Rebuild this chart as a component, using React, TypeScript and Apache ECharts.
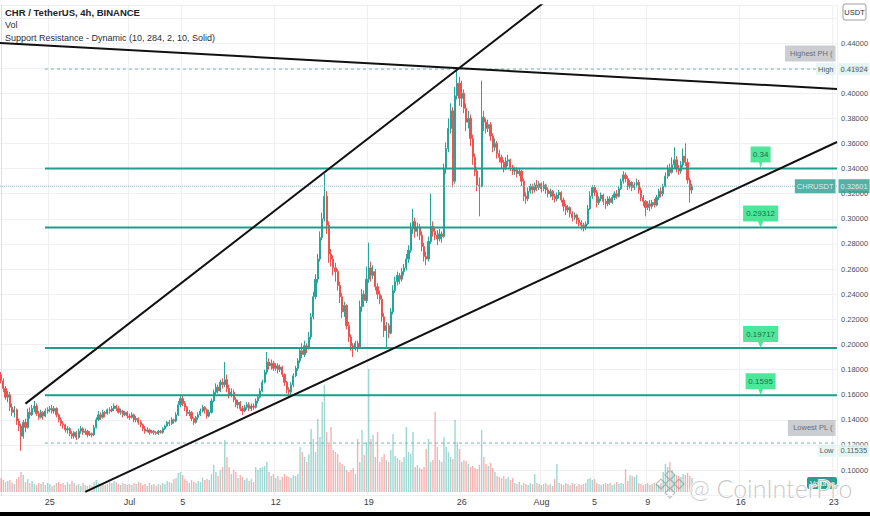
import React, { useEffect, useRef } from 'react';
import * as echarts from 'echarts';

// ---- time axis (4h candles) ----
const START_UTC = Date.UTC(2021, 5, 21, 8);
const STEP_MS = 4 * 3600 * 1000;
const SLOT_COUNT = 378;
const TICK_KEYS = ['06-25 00', '07-01 00', '07-05 00', '07-12 00', '07-19 00', '07-26 00', '08-01 00', '08-05 00', '08-09 00', '08-16 00', '08-23 00'];
const TICK_TEXT = ['25', 'Jul', '5', '12', '19', '26', 'Aug', '5', '9', '16', '23'];

// ---- price data (CHR/USDT 4h) ----
const FIRST_OPEN = 0.176;
const CLOSE = [
  0.171, 0.165, 0.158, 0.160,
  0.150, 0.146, 0.148, 0.139, 0.135, 0.127,
  0.138, 0.134, 0.146, 0.144, 0.149, 0.151,
  0.145, 0.142, 0.146, 0.143, 0.147, 0.148,
  0.149, 0.147, 0.149, 0.144, 0.140, 0.137,
  0.136, 0.132, 0.133, 0.129, 0.127, 0.130,
  0.126, 0.131, 0.133, 0.130, 0.131, 0.128,
  0.129, 0.128, 0.134, 0.140, 0.144, 0.142,
  0.146, 0.145, 0.148, 0.147, 0.149, 0.151,
  0.149, 0.146, 0.147, 0.144, 0.146, 0.143,
  0.142, 0.144, 0.140, 0.141, 0.138, 0.136,
  0.133, 0.131, 0.132, 0.130, 0.131, 0.130,
  0.129, 0.131, 0.130, 0.133, 0.135, 0.138,
  0.137, 0.140, 0.139, 0.144, 0.152, 0.157,
  0.153, 0.150, 0.145, 0.146, 0.141, 0.138,
  0.142, 0.144, 0.147, 0.150, 0.148, 0.143,
  0.146, 0.155, 0.162, 0.166, 0.163, 0.170,
  0.168, 0.172, 0.165, 0.160, 0.162, 0.156,
  0.152, 0.154, 0.149, 0.147, 0.150, 0.152,
  0.149, 0.151, 0.150, 0.155, 0.158, 0.163,
  0.170, 0.178, 0.186, 0.183, 0.185, 0.181,
  0.183, 0.180, 0.182, 0.176, 0.170, 0.164,
  0.162, 0.168, 0.175, 0.181, 0.187, 0.195,
  0.192, 0.199, 0.197, 0.206, 0.222, 0.238,
  0.252, 0.268, 0.285, 0.300, 0.318, 0.295,
  0.272, 0.268, 0.261, 0.258, 0.247, 0.238,
  0.226, 0.231, 0.215, 0.206, 0.199, 0.197,
  0.201, 0.198, 0.230, 0.240, 0.235, 0.252,
  0.261, 0.255, 0.258, 0.246, 0.240, 0.236,
  0.222, 0.211, 0.215, 0.209, 0.226, 0.243,
  0.250, 0.255, 0.252, 0.258, 0.261, 0.268,
  0.275, 0.292, 0.298, 0.290, 0.293, 0.287,
  0.278, 0.270, 0.268, 0.282, 0.294, 0.290,
  0.287, 0.284, 0.288, 0.286, 0.340, 0.356,
  0.372, 0.386, 0.330, 0.398, 0.408, 0.396,
  0.400, 0.388, 0.377, 0.380, 0.364, 0.349,
  0.338, 0.327, 0.326, 0.381, 0.377, 0.372,
  0.375, 0.366, 0.357, 0.360, 0.352, 0.349,
  0.345, 0.341, 0.346, 0.347, 0.341, 0.338,
  0.339, 0.336, 0.338, 0.330, 0.318, 0.316,
  0.322, 0.326, 0.323, 0.327, 0.325, 0.328,
  0.324, 0.327, 0.323, 0.320, 0.322, 0.318,
  0.316, 0.319, 0.321, 0.315, 0.310, 0.307,
  0.309, 0.304, 0.301, 0.303, 0.299, 0.297,
  0.295, 0.293, 0.296, 0.308, 0.318, 0.325,
  0.321, 0.313, 0.316, 0.319, 0.314, 0.312,
  0.316, 0.313, 0.317, 0.320, 0.318, 0.324,
  0.330, 0.335, 0.332, 0.326, 0.329, 0.325,
  0.327, 0.329, 0.323, 0.317, 0.314, 0.309,
  0.312, 0.310, 0.313, 0.311, 0.317, 0.322,
  0.320, 0.326, 0.334, 0.340, 0.337, 0.343,
  0.347, 0.340, 0.338, 0.343, 0.350, 0.345,
  0.331, 0.323, 0.32601,
];
const LOW = [
  0.169, 0.162, 0.156, 0.154,
  0.147, 0.143, 0.142, 0.136, 0.131, 0.11535,
  0.125, 0.130, 0.133, 0.141, 0.143, 0.146,
  0.143, 0.140, 0.141, 0.140, 0.142, 0.145,
  0.146, 0.145, 0.145, 0.142, 0.138, 0.135,
  0.133, 0.130, 0.129, 0.127, 0.125, 0.125,
  0.124, 0.125, 0.129, 0.128, 0.128, 0.126,
  0.127, 0.126, 0.127, 0.133, 0.139, 0.140,
  0.141, 0.142, 0.144, 0.145, 0.146, 0.147,
  0.147, 0.145, 0.144, 0.142, 0.143, 0.141,
  0.140, 0.141, 0.138, 0.138, 0.136, 0.134,
  0.131, 0.129, 0.130, 0.128, 0.129, 0.128,
  0.128, 0.128, 0.129, 0.129, 0.132, 0.134,
  0.135, 0.136, 0.137, 0.138, 0.143, 0.150,
  0.151, 0.147, 0.143, 0.143, 0.139, 0.136,
  0.137, 0.140, 0.143, 0.146, 0.145, 0.141,
  0.142, 0.145, 0.154, 0.160, 0.161, 0.162,
  0.165, 0.166, 0.162, 0.157, 0.158, 0.154,
  0.150, 0.149, 0.147, 0.144, 0.146, 0.148,
  0.147, 0.147, 0.148, 0.149, 0.153, 0.157,
  0.162, 0.169, 0.176, 0.180, 0.180, 0.179,
  0.179, 0.177, 0.178, 0.174, 0.167, 0.161,
  0.158, 0.160, 0.166, 0.174, 0.179, 0.185,
  0.189, 0.190, 0.193, 0.196, 0.204, 0.220,
  0.236, 0.249, 0.266, 0.283, 0.298, 0.288,
  0.265, 0.262, 0.255, 0.250, 0.243, 0.233,
  0.221, 0.222, 0.212, 0.202, 0.195, 0.190,
  0.195, 0.194, 0.197, 0.226, 0.230, 0.233,
  0.249, 0.250, 0.252, 0.243, 0.236, 0.232,
  0.218, 0.206, 0.198, 0.205, 0.208, 0.224,
  0.241, 0.247, 0.248, 0.250, 0.255, 0.259,
  0.265, 0.273, 0.288, 0.285, 0.286, 0.283,
  0.274, 0.266, 0.263, 0.266, 0.280, 0.286,
  0.283, 0.279, 0.282, 0.281, 0.285, 0.336,
  0.353, 0.368, 0.325, 0.328, 0.395, 0.390,
  0.389, 0.384, 0.370, 0.372, 0.358, 0.343,
  0.334, 0.322, 0.302, 0.325, 0.370, 0.368,
  0.369, 0.362, 0.353, 0.354, 0.348, 0.345,
  0.340, 0.337, 0.339, 0.342, 0.338, 0.335,
  0.335, 0.333, 0.334, 0.326, 0.314, 0.312,
  0.314, 0.320, 0.320, 0.321, 0.322, 0.323,
  0.321, 0.322, 0.320, 0.317, 0.317, 0.315,
  0.313, 0.314, 0.316, 0.313, 0.306, 0.303,
  0.305, 0.301, 0.298, 0.299, 0.296, 0.294,
  0.291, 0.290, 0.291, 0.295, 0.307, 0.316,
  0.318, 0.309, 0.311, 0.314, 0.311, 0.308,
  0.310, 0.311, 0.312, 0.315, 0.316, 0.317,
  0.323, 0.328, 0.329, 0.323, 0.324, 0.322,
  0.323, 0.325, 0.320, 0.314, 0.310, 0.302,
  0.307, 0.306, 0.308, 0.309, 0.310, 0.315,
  0.317, 0.318, 0.325, 0.332, 0.334, 0.336,
  0.340, 0.337, 0.335, 0.336, 0.341, 0.342,
  0.328, 0.313, 0.320,
];
const HIGH = [
  0.178, 0.173, 0.167, 0.163,
  0.162, 0.153, 0.151, 0.149, 0.141, 0.137,
  0.140, 0.141, 0.149, 0.150, 0.152, 0.155,
  0.153, 0.147, 0.148, 0.147, 0.149, 0.150,
  0.151, 0.152, 0.151, 0.150, 0.145, 0.142,
  0.139, 0.137, 0.135, 0.134, 0.131, 0.131,
  0.131, 0.133, 0.135, 0.134, 0.133, 0.132,
  0.131, 0.130, 0.136, 0.142, 0.147, 0.146,
  0.148, 0.147, 0.149, 0.150, 0.151, 0.153,
  0.152, 0.151, 0.149, 0.148, 0.147, 0.147,
  0.145, 0.146, 0.145, 0.143, 0.142, 0.140,
  0.137, 0.135, 0.134, 0.133, 0.132, 0.132,
  0.131, 0.132, 0.132, 0.134, 0.136, 0.139,
  0.140, 0.142, 0.141, 0.146, 0.155, 0.160,
  0.159, 0.155, 0.151, 0.148, 0.147, 0.142,
  0.143, 0.146, 0.149, 0.152, 0.151, 0.149,
  0.148, 0.157, 0.164, 0.169, 0.168, 0.172,
  0.173, 0.186, 0.176, 0.168, 0.165, 0.164,
  0.158, 0.156, 0.155, 0.151, 0.152, 0.154,
  0.154, 0.153, 0.153, 0.157, 0.160, 0.165,
  0.172, 0.180, 0.194, 0.189, 0.188, 0.187,
  0.185, 0.185, 0.184, 0.183, 0.177, 0.171,
  0.166, 0.170, 0.177, 0.183, 0.189, 0.198,
  0.201, 0.203, 0.201, 0.210, 0.225, 0.242,
  0.256, 0.272, 0.290, 0.305, 0.336, 0.322,
  0.298, 0.276, 0.271, 0.265, 0.260, 0.250,
  0.241, 0.234, 0.232, 0.218, 0.208, 0.201,
  0.203, 0.203, 0.235, 0.244, 0.243, 0.262,
  0.281, 0.266, 0.263, 0.260, 0.249, 0.243,
  0.239, 0.225, 0.218, 0.217, 0.229, 0.247,
  0.254, 0.258, 0.257, 0.261, 0.264, 0.272,
  0.279, 0.297, 0.308, 0.301, 0.297, 0.296,
  0.290, 0.281, 0.274, 0.286, 0.320, 0.298,
  0.293, 0.291, 0.292, 0.290, 0.344, 0.361,
  0.380, 0.392, 0.389, 0.405, 0.41924, 0.413,
  0.410, 0.403, 0.392, 0.386, 0.383, 0.367,
  0.352, 0.341, 0.333, 0.410, 0.386, 0.380,
  0.379, 0.377, 0.368, 0.364, 0.362, 0.355,
  0.351, 0.347, 0.349, 0.351, 0.348, 0.343,
  0.341, 0.341, 0.340, 0.339, 0.332, 0.321,
  0.325, 0.328, 0.328, 0.329, 0.331, 0.330,
  0.329, 0.330, 0.328, 0.325, 0.324, 0.323,
  0.320, 0.321, 0.323, 0.322, 0.317, 0.312,
  0.311, 0.310, 0.306, 0.305, 0.304, 0.301,
  0.299, 0.297, 0.298, 0.311, 0.322, 0.327,
  0.327, 0.323, 0.318, 0.321, 0.320, 0.316,
  0.318, 0.318, 0.319, 0.322, 0.323, 0.326,
  0.332, 0.338, 0.337, 0.334, 0.331, 0.330,
  0.329, 0.332, 0.331, 0.325, 0.319, 0.315,
  0.314, 0.315, 0.315, 0.316, 0.319, 0.324,
  0.325, 0.328, 0.337, 0.343, 0.344, 0.349,
  0.357, 0.350, 0.343, 0.346, 0.356, 0.360,
  0.348, 0.333, 0.328,
];
const VOLUME = [
  14, 12, 10, 11,
  12, 9, 8, 13, 15, 20,
  17, 10, 13, 9, 11, 8,
  7, 9, 8, 10, 7, 9,
  8, 6, 7, 9, 10, 8,
  9, 7, 10, 8, 11, 9,
  7, 8, 6, 9, 7, 6,
  7, 6, 10, 12, 9, 8,
  9, 7, 8, 10, 9, 11,
  10, 8, 7, 9, 8, 7,
  8, 7, 9, 8, 10, 9,
  7, 8, 6, 9, 7, 8,
  6, 8, 7, 9, 8, 11,
  10, 9, 13, 14, 19, 20,
  17, 13, 11, 9, 12, 10,
  9, 11, 10, 14, 12, 13,
  12, 18, 27, 20, 16, 22,
  25, 52, 35, 25, 18, 22,
  20, 14, 17, 15, 12, 14,
  11, 13, 10, 25, 22, 24,
  25, 26, 30, 20, 16, 18,
  14, 16, 12, 15, 18, 16,
  15, 14, 17, 16, 18, 45,
  40, 35, 30, 38, 63, 53,
  40, 73, 55, 90, 107, 60,
  48, 65, 42, 40, 38, 30,
  28, 26, 22, 20, 22, 24,
  18, 53, 30, 62, 37, 50,
  123, 53, 57, 35, 60, 30,
  35, 38, 32, 30, 42, 58,
  36, 34, 32, 30, 35, 65,
  40, 38, 60, 25, 27, 24,
  23, 25, 43, 53, 30, 32,
  80, 45, 32, 30, 55, 45,
  40, 35, 33, 72, 50, 43,
  30, 32, 31, 28, 25, 26,
  24, 23, 27, 62, 35, 28,
  26, 29, 24, 20, 16, 15,
  14, 16, 13, 15, 12, 14,
  9, 8, 10, 7, 9, 8,
  7, 9, 8, 18, 9, 8,
  7, 8, 9, 7, 8, 6,
  13, 28, 9, 8, 7, 9,
  8, 7, 9, 8, 6, 8,
  7, 8, 9, 13, 14, 12,
  13, 9, 8, 7, 8, 9,
  8, 9, 7, 8, 10, 8,
  9, 8, 23, 11, 17, 16,
  15, 17, 9, 8, 7, 8,
  9, 7, 8, 9, 8, 7,
  9, 20, 28, 25, 30, 22,
  18, 17, 16, 15, 18, 17,
  19, 16, 14,
];

// ---- drawn levels / trendlines (slot index, price) ----
const TRENDLINES = [
  [[-0.5, 0.44], [377.5, 0.4034]],
  [[11, 0.1529], [260, 0.4925]],
  [[38, 0.0826], [377.5, 0.3612]],
];
const SR_LEVELS = [0.34, 0.29312, 0.19717, 0.1595];
const SR_TEXT = ['0.34', '0.29312', '0.19717', '0.1595'];
const SR_BOX_W = [20, 35, 35, 30];
const LEVEL_START = 19.8;
const HIGH_LEVEL = 0.41924;
const LOW_PIVOT_LEVEL = 0.1215;
const LOW_VALUE = 0.11535;
const LAST_PRICE = 0.32601;

const UP = '#26a69a';
const DOWN = '#ef5350';
const FONT = 'Liberation Sans';

export default function App() {
  const ref = useRef<HTMLDivElement>(null);
  useEffect(() => {
    if (!ref.current) return;
    const chart = echarts.init(ref.current, undefined, { renderer: 'svg' });
    const pad = (n: number) => String(n).padStart(2, '0');
    const categories = Array.from({ length: SLOT_COUNT }, (_, k) => {
      const d = new Date(START_UTC + k * STEP_MS);
      return `${pad(d.getUTCMonth() + 1)}-${pad(d.getUTCDate())} ${pad(d.getUTCHours())}`;
    });
    const candles = CLOSE.map((c, k) => {
      const o = k === 0 ? FIRST_OPEN : CLOSE[k - 1];
      return [o, c, Math.min(LOW[k], o, c), Math.max(HIGH[k], o, c)];
    });
    const vol = VOLUME.map((v, k) => ({
      value: v,
      itemStyle: { color: candles[k][1] >= candles[k][0] ? 'rgba(38,166,154,0.45)' : 'rgba(239,83,80,0.45)' },
    }));
    const isTick = (_i: number, v: string) => TICK_KEYS.indexOf(v) >= 0;
    const lineSeries = (data: number[][], color: string, width: number, type: any = 'solid') => ({
      type: 'line', xAxisIndex: 1, yAxisIndex: 0, data, symbol: 'none', silent: true, z: 5,
      lineStyle: { color, width, type }, clip: true,
    });
    const END = SLOT_COUNT - 0.5;
    const calloutPath = 'path://M0,0H40V16H23L20,22L17,16H0Z';
    const lightBox = { backgroundColor: '#def2ef', color: '#2b2f36', padding: [2, 2, 2, 2], fontSize: 7.5, fontFamily: FONT };
    const grayBox = { backgroundColor: '#bfc1c6', color: '#4a4d55', padding: [4, 3, 4, 5], fontSize: 7.5, fontFamily: FONT };
    const tealBox = { backgroundColor: '#2a9d8f', color: '#ffffff', padding: [3, 2, 3, 2], fontSize: 7.5, fontFamily: FONT };
    const tag = (price: number, text: string, pos: string, style: any) => ({
      value: [END, price],
      label: { show: true, position: pos, distance: 1, formatter: text, ...style },
    });

    chart.setOption({
      animation: false,
      textStyle: { fontFamily: FONT },
      grid: [
        { left: 0, right: 33, top: 5.32, bottom: 20.8, outerBoundsMode: 'none', containLabel: false },
        { left: 0, right: 33, bottom: 24, height: 140, outerBoundsMode: 'none', containLabel: false },
      ],
      xAxis: [
        {
          type: 'category', gridIndex: 0, data: categories, boundaryGap: true,
          axisLine: { show: false }, axisTick: { show: false },
          axisLabel: {
            interval: isTick, margin: 2, fontSize: 9, color: '#3b3e47', fontFamily: FONT,
            formatter: (v: string) => { const k = TICK_KEYS.indexOf(v); return k >= 0 ? TICK_TEXT[k] : ''; },
          },
          splitLine: { show: true, interval: isTick, lineStyle: { color: '#eef0f4', width: 1 } },
        },
        { type: 'value', gridIndex: 0, min: -0.5, max: END, show: false },
        { type: 'category', gridIndex: 1, data: categories, show: false },
      ],
      yAxis: [
        {
          type: 'value', gridIndex: 0, position: 'right', min: 0.08, max: 0.47, interval: 0.02,
          axisLine: { show: true, lineStyle: { color: '#dcdfe6' } }, axisTick: { show: false },
          axisLabel: {
            margin: 4, fontSize: 7.5, color: '#4a4d57', fontFamily: FONT, showMaxLabel: false,
            formatter: (v: number) => (v > 0.099 && v < 0.441 ? v.toFixed(5) : ''),
          },
          splitLine: { lineStyle: { color: '#eef0f4' } },
        },
        { type: 'value', gridIndex: 1, min: 0, max: 140, show: false },
      ],
      series: [
        {
          type: 'bar', xAxisIndex: 2, yAxisIndex: 1, data: vol, barWidth: 1.4, silent: true, z: 1,
        },
        {
          type: 'candlestick', xAxisIndex: 0, yAxisIndex: 0, data: candles, barWidth: 1.7, z: 3,
          itemStyle: { color: UP, color0: DOWN, borderColor: UP, borderColor0: DOWN, borderWidth: 1 },
        },
        lineSeries([[-0.5, LAST_PRICE], [END, LAST_PRICE]], '#93b9b5', 1, 'dotted'),
        lineSeries([[LEVEL_START, HIGH_LEVEL], [END, HIGH_LEVEL]], '#6bb8b0', 1, [3, 3]),
        lineSeries([[LEVEL_START, LOW_PIVOT_LEVEL], [END, LOW_PIVOT_LEVEL]], '#6bb8b0', 1, [3, 3]),
        ...SR_LEVELS.map((p) => lineSeries([[LEVEL_START, p], [END, p]], '#1f9e8a', 2)),
        ...TRENDLINES.map((t) => lineSeries(t, '#111111', 2)),
        {
          type: 'scatter', xAxisIndex: 1, yAxisIndex: 0, silent: true, z: 8,
          symbol: calloutPath, symbolKeepAspect: false,
          data: SR_LEVELS.map((p, k) => ({
            value: [343, p], symbolSize: [SR_BOX_W[k], 22], symbolOffset: [0, -11],
            label: { show: true, position: 'inside', offset: [0, -3], formatter: SR_TEXT[k], fontSize: 8, color: '#124a33', fontFamily: FONT },
          })),
          itemStyle: { color: '#22e07f' },
        },
        {
          type: 'scatter', xAxisIndex: 1, yAxisIndex: 0, silent: true, z: 9, symbolSize: 1,
          itemStyle: { color: 'rgba(0,0,0,0)' },
          data: [
            tag(HIGH_LEVEL, '0.41924', 'right', lightBox),
            tag(HIGH_LEVEL, 'High', 'left', lightBox),
            tag(0.4316, 'Highest PH (', 'left', grayBox),
            tag(LAST_PRICE, '0.32601', 'right', tealBox),
            tag(LAST_PRICE, 'CHRUSDT', 'left', tealBox),
            tag(0.1335, 'Lowest PL (', 'left', grayBox),
            tag(LOW_VALUE, '0.11535', 'right', lightBox),
            tag(LOW_VALUE, 'Low', 'left', lightBox),
          ],
        },
      ],
      graphic: [
        { type: 'text', left: 5, top: 7, z: 20, style: { text: 'CHR / TetherUS, 4h, BINANCE', fontSize: 9.5, fontWeight: 'bold', fill: '#1e222d', fontFamily: FONT } },
        { type: 'text', left: 5, top: 20, z: 20, style: { text: 'Vol', fontSize: 9, fill: '#2a2e39', fontFamily: FONT } },
        { type: 'text', left: 5, top: 33, z: 20, style: { text: 'Support Resistance - Dynamic (10, 284, 2, 10, Solid)', fontSize: 9, fill: '#2a2e39', fontFamily: FONT } },
        { type: 'rect', z: 20, shape: { x: 843, y: 4, width: 23, height: 16, r: 2 }, style: { fill: '#ffffff', stroke: '#9a9da5', lineWidth: 1 } },
        { type: 'text', z: 21, x: 854.5, y: 12, style: { text: 'USDT', fontSize: 7.5, fill: '#2a2e39', align: 'center', verticalAlign: 'middle', fontFamily: FONT } },
        { type: 'rect', z: 20, shape: { x: 807, y: 477, width: 30, height: 12, r: 2 }, style: { fill: '#2a9d8f' } },
        { type: 'text', z: 21, x: 810, y: 483, style: { text: 'Volume', fontSize: 7.5, fill: '#ffffff', verticalAlign: 'middle', fontFamily: FONT } },
        {
          type: 'group', z: 30, x: 670, y: 484,
          children: [
            { type: 'rect', rotation: Math.PI / 4, shape: { x: -3.5, y: -3.5, width: 7, height: 7 }, style: { fill: '#ffffff', stroke: '#bdbdbd', lineWidth: 1.2 } },
            { type: 'rect', x: 0, y: -9, rotation: Math.PI / 4, shape: { x: -3.5, y: -3.5, width: 7, height: 7 }, style: { fill: '#ffffff', stroke: '#bdbdbd', lineWidth: 1.2 } },
            { type: 'rect', x: 0, y: 9, rotation: Math.PI / 4, shape: { x: -3.5, y: -3.5, width: 7, height: 7 }, style: { fill: '#ffffff', stroke: '#bdbdbd', lineWidth: 1.2 } },
            { type: 'rect', x: -9, y: 0, rotation: Math.PI / 4, shape: { x: -3.5, y: -3.5, width: 7, height: 7 }, style: { fill: '#ffffff', stroke: '#bdbdbd', lineWidth: 1.2 } },
            { type: 'rect', x: 9, y: 0, rotation: Math.PI / 4, shape: { x: -3.5, y: -3.5, width: 7, height: 7 }, style: { fill: '#ffffff', stroke: '#bdbdbd', lineWidth: 1.2 } },
          ],
        },
        {
          type: 'text', z: 30, x: 689, y: 488,
          style: { text: '@ CoinInterPro', fontSize: 25, fontFamily: 'Lato', fontWeight: 300, fill: 'rgba(190,190,190,0.85)', stroke: '#ffffff', lineWidth: 1.5, verticalAlign: 'middle' },
        },
        { type: 'rect', z: 40, shape: { x: 0, y: 512, width: 870, height: 4 }, style: { fill: '#000000' } },
      ],
    });
    return () => chart.dispose();
  }, []);
  return <div ref={ref} style={{ position: 'fixed', left: 0, top: 0, width: 870, height: 516, background: '#ffffff' }} />;
}
